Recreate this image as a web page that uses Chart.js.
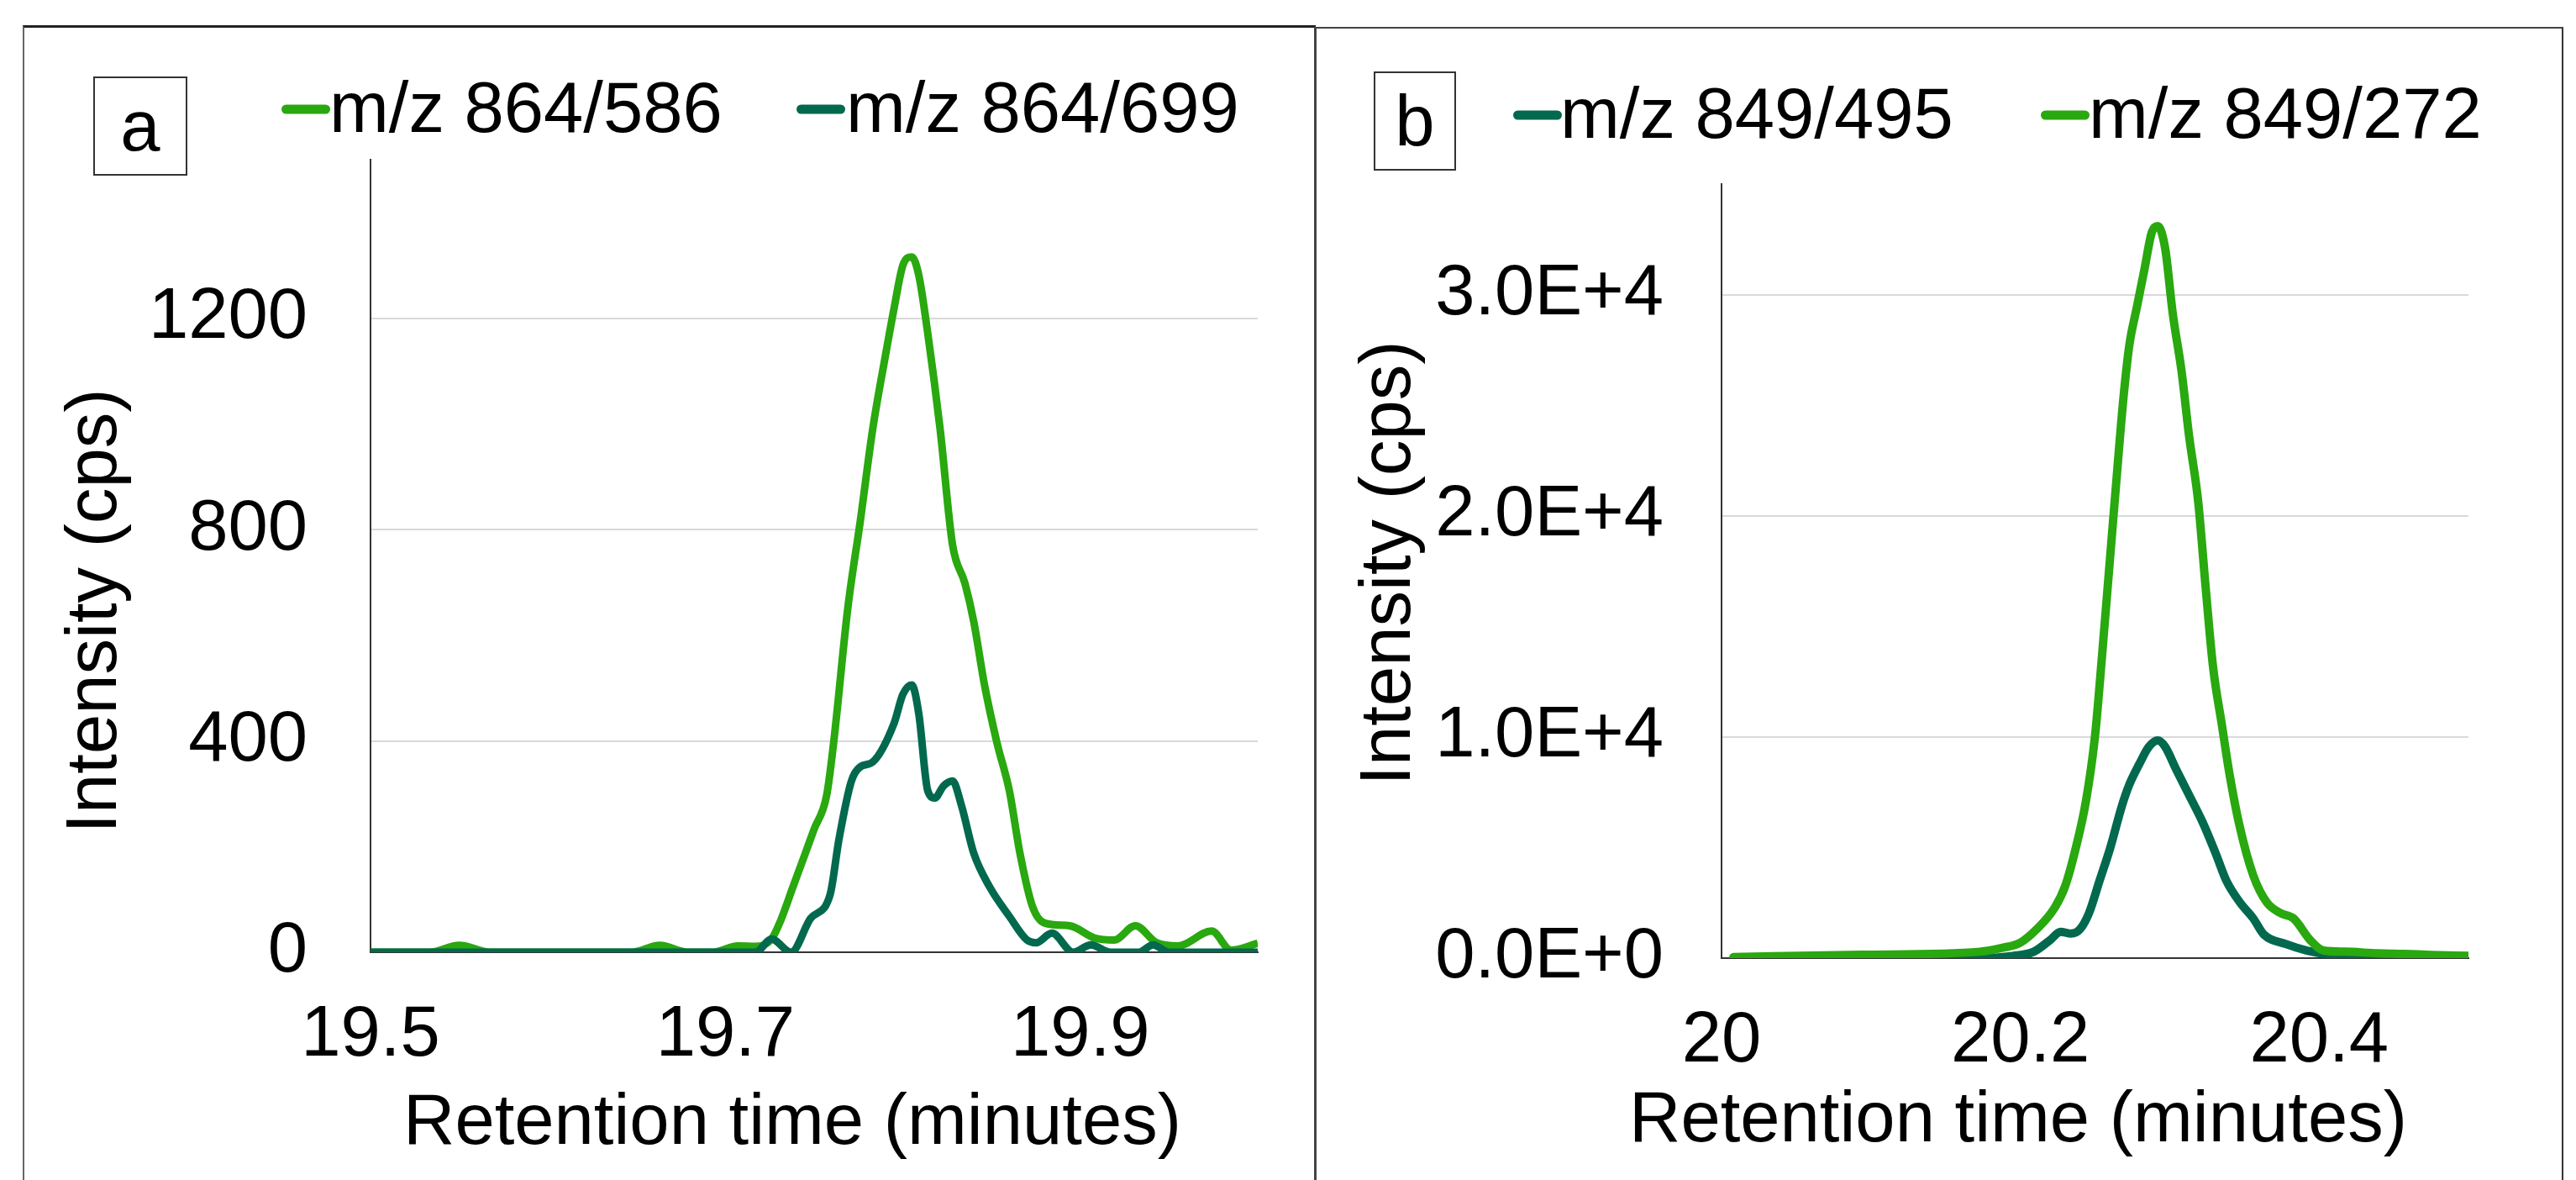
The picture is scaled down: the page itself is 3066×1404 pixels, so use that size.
<!DOCTYPE html>
<html>
<head>
<meta charset="utf-8">
<script src="https://cdn.jsdelivr.net/npm/chart.js@4.4.1/dist/chart.umd.min.js"></script>
<style>
  html, body { margin: 0; padding: 0; background: #fff; }
  body { width: 3066px; height: 1404px; position: relative; overflow: hidden; font-family: "Liberation Sans", Arial, sans-serif; }
  .frame { position: absolute; box-sizing: border-box; }
  .tag { position: absolute; box-sizing: border-box; border: 2px solid #333; font-size: 85px; line-height: 114px; text-align: center; color: #000; }
  canvas { position: absolute; top: 0; }
</style>
</head>
<body>
<div class="frame" style="left:27px;top:30px;width:1539px;height:1400px;border-left:2px solid #666;border-top:3px solid #222;"></div>
<div class="frame" style="left:1564px;top:32px;width:1487px;height:1400px;border-left:3px solid #444;border-top:2px solid #444;border-right:2px solid #333;"></div>
<div class="tag" style="left:111px;top:91px;width:112px;height:118px;">a</div>
<div class="tag" style="left:1635px;top:85px;width:98px;height:118px;">b</div>
<canvas id="panelA" width="1564" height="1404" style="left:0;"></canvas>
<canvas id="panelB" width="1502" height="1404" style="left:1564px;"></canvas>
<script>
const FONT = '"Liberation Sans", Arial, sans-serif';
const GREEN = '#29a80f';
const DARK = '#02694f';

// panel a: retention time (min) and intensity (cps)
const timeA586 = [19.5, 19.533, 19.55, 19.568, 19.647, 19.663, 19.679, 19.693, 19.707, 19.717, 19.726, 19.731, 19.738, 19.745, 19.75, 19.757, 19.761, 19.769, 19.776, 19.783, 19.79, 19.795, 19.8, 19.805, 19.809, 19.814, 19.821, 19.828, 19.835, 19.84, 19.846, 19.853, 19.86, 19.866, 19.873, 19.88, 19.894, 19.908, 19.919, 19.931, 19.943, 19.955, 19.974, 19.985, 20.0];
const intA586 = [0, 0, 13, 0, 0, 13, 0, 0, 12, 11, 25, 59, 123, 187, 233, 296, 397, 652, 816, 990, 1126, 1218, 1300, 1316, 1281, 1172, 990, 771, 698, 625, 506, 397, 306, 187, 87, 55, 50, 27, 23, 50, 18, 12, 40, 4, 17];
const timeA699 = [19.5, 19.717, 19.726, 19.737, 19.748, 19.759, 19.764, 19.771, 19.776, 19.783, 19.795, 19.8, 19.805, 19.809, 19.814, 19.818, 19.823, 19.828, 19.833, 19.84, 19.849, 19.86, 19.87, 19.875, 19.884, 19.896, 19.906, 19.917, 19.933, 19.941, 19.95, 20.0];
const intA699 = [0, 0, 25, 0, 64, 109, 214, 324, 351, 360, 433, 488, 506, 451, 306, 292, 315, 324, 278, 187, 123, 68, 23, 18, 36, 0, 14, 0, 0, 14, 0, 0];

// panel b
const timeB495 = [20.008, 20.173, 20.195, 20.209, 20.22, 20.227, 20.234, 20.24, 20.246, 20.253, 20.26, 20.268, 20.273, 20.28, 20.286, 20.292, 20.297, 20.304, 20.313, 20.322, 20.331, 20.338, 20.347, 20.356, 20.363, 20.378, 20.392, 20.41, 20.432, 20.5];
const intB495 = [0, 0, 100, 290, 820, 1190, 1110, 1310, 2040, 3490, 4940, 6880, 7850, 8820, 9550, 9840, 9550, 8580, 7370, 6150, 4700, 3490, 2520, 1790, 1070, 630, 340, 145, 50, 0];
const timeB272 = [20.008, 20.094, 20.173, 20.1875, 20.2, 20.211, 20.223, 20.23, 20.237, 20.244, 20.25, 20.255, 20.26, 20.265, 20.269, 20.273, 20.278, 20.283, 20.288, 20.292, 20.297, 20.302, 20.308, 20.313, 20.319, 20.324, 20.329, 20.335, 20.34, 20.347, 20.356, 20.365, 20.374, 20.383, 20.394, 20.403, 20.417, 20.439, 20.457, 20.475, 20.5];
const intB272 = [50, 150, 290, 460, 700, 1310, 2280, 3250, 4940, 7120, 10030, 13910, 18030, 22150, 25300, 27720, 29420, 31110, 32810, 33100, 32080, 29170, 26510, 23600, 20690, 16820, 13180, 10520, 8340, 5910, 3730, 2520, 2040, 1790, 820, 340, 290, 220, 190, 145, 100];

// ticks
const ticksAX = [19.5, 19.7, 19.9];
const labelsAX = ['19.5', '19.7', '19.9'];
const ticksAY = [0, 400, 800, 1200];
const labelsAY = ['0', '400', '800', '1200'];
const ticksBX = [20, 20.2, 20.4];
const labelsBX = ['20', '20.2', '20.4'];
const ticksBY = [0, 10000, 20000, 30000];
const labelsBY = ['0.0E+0', '1.0E+4', '2.0E+4', '3.0E+4'];

const xTitle = 'Retention time (minutes)';
const yTitle = 'Intensity (cps)';

const toPoints = (xs, ys) => xs.map((x, i) => ({ x, y: ys[i] }));

// legend + axis titles drawn at fixed spots, like the source figure
const panelText = {
  id: 'panelText',
  afterDraw(chart, args, opts) {
    const { ctx } = chart;
    ctx.save();
    ctx.font = `85px ${FONT}`;
    ctx.fillStyle = '#000';
    chart.data.datasets.forEach((ds, i) => {
      const item = opts.legend[i];
      ctx.strokeStyle = ds.borderColor;
      ctx.lineWidth = 11;
      ctx.lineCap = 'round';
      ctx.beginPath();
      ctx.moveTo(item.x + 5.5, item.y);
      ctx.lineTo(item.x + 52.5, item.y);
      ctx.stroke();
      ctx.textAlign = 'left';
      ctx.textBaseline = 'alphabetic';
      ctx.fillText(ds.label, item.tx, item.y + 27);
    });
    opts.titles.forEach((t) => {
      ctx.save();
      ctx.translate(t.x, t.y);
      ctx.rotate(t.rot || 0);
      ctx.textAlign = 'center';
      ctx.textBaseline = 'middle';
      ctx.fillText(t.text, 0, 0);
      ctx.restore();
    });
    ctx.restore();
  },
};

const axisFont = { family: FONT, size: 85 };
const border = { display: true, color: '#333', width: 2 };

function makePanel(el, p) {
  return new Chart(el, {
    type: 'line',
    data: { datasets: p.datasets },
    options: {
      responsive: false,
      animation: false,
      events: [],
      layout: { padding: p.padding },
      elements: {
        point: { radius: 0 },
        line: { borderWidth: p.lineWidth, cubicInterpolationMode: 'monotone', borderCapStyle: p.cap, borderJoinStyle: 'round', fill: false },
      },
      plugins: {
        legend: { display: false },
        tooltip: { enabled: false },
        panelText: { legend: p.legend, titles: p.titles },
      },
      scales: {
        x: {
          type: 'linear',
          min: p.xMin,
          max: p.xMax,
          afterBuildTicks: (s) => { s.ticks = p.xTicks.map((value) => ({ value })); },
          afterFit: (s) => { s.height = p.xHeight; },
          grid: { display: false, drawTicks: false },
          border,
          ticks: { padding: 49, maxRotation: 0, autoSkip: false, color: '#000', font: axisFont, callback: (v, i) => p.xLabels[i] },
        },
        y: {
          min: 0,
          max: p.yMax,
          afterBuildTicks: (s) => { s.ticks = p.yTicks.map((value) => ({ value })); },
          afterFit: (s) => { s.width = p.yWidth; },
          grid: { color: '#d9d9d9', lineWidth: 2, drawTicks: false },
          border,
          ticks: { padding: p.yPad, color: '#000', font: axisFont, callback: (v, i) => p.yLabels[i] },
        },
      },
    },
    plugins: [panelText],
  });
}

makePanel(document.getElementById('panelA'), {
  datasets: [
    { label: 'm/z 864/586', data: toPoints(timeA586, intA586), borderColor: GREEN, order: 1 },
    { label: 'm/z 864/699', data: toPoints(timeA699, intA699), borderColor: DARK, order: 0 },
  ],
  padding: { top: 190, right: 67, left: 0, bottom: 0 },
  lineWidth: 9,
  cap: 'butt',
  xMin: 19.5, xMax: 20, xTicks: ticksAX, xLabels: labelsAX, xHeight: 271,
  yMax: 1500, yTicks: ticksAY, yLabels: labelsAY, yWidth: 441, yPad: 75,
  legend: [{ x: 335, y: 130, tx: 392 }, { x: 948, y: 130, tx: 1007 }],
  titles: [
    { text: yTitle, x: 115, y: 727, rot: -Math.PI / 2 },
    { text: xTitle, x: 943, y: 1338 },
  ],
});

makePanel(document.getElementById('panelB'), {
  datasets: [
    { label: 'm/z 849/495', data: toPoints(timeB495, intB495), borderColor: DARK, order: 1 },
    { label: 'm/z 849/272', data: toPoints(timeB272, intB272), borderColor: GREEN, order: 0 },
  ],
  padding: { top: 219, right: 128, left: 0, bottom: 0 },
  lineWidth: 10,
  cap: 'round',
  xMin: 20, xMax: 20.5, xTicks: ticksBX, xLabels: labelsBX, xHeight: 264,
  yMax: 35000, yTicks: ticksBY, yLabels: labelsBY, yWidth: 485, yPad: 69,
  legend: [{ x: 237, y: 137, tx: 293 }, { x: 865, y: 137, tx: 922 }],
  titles: [
    { text: yTitle, x: 91, y: 670, rot: -Math.PI / 2 },
    { text: xTitle, x: 838, y: 1335 },
  ],
});
</script>
</body>
</html>
